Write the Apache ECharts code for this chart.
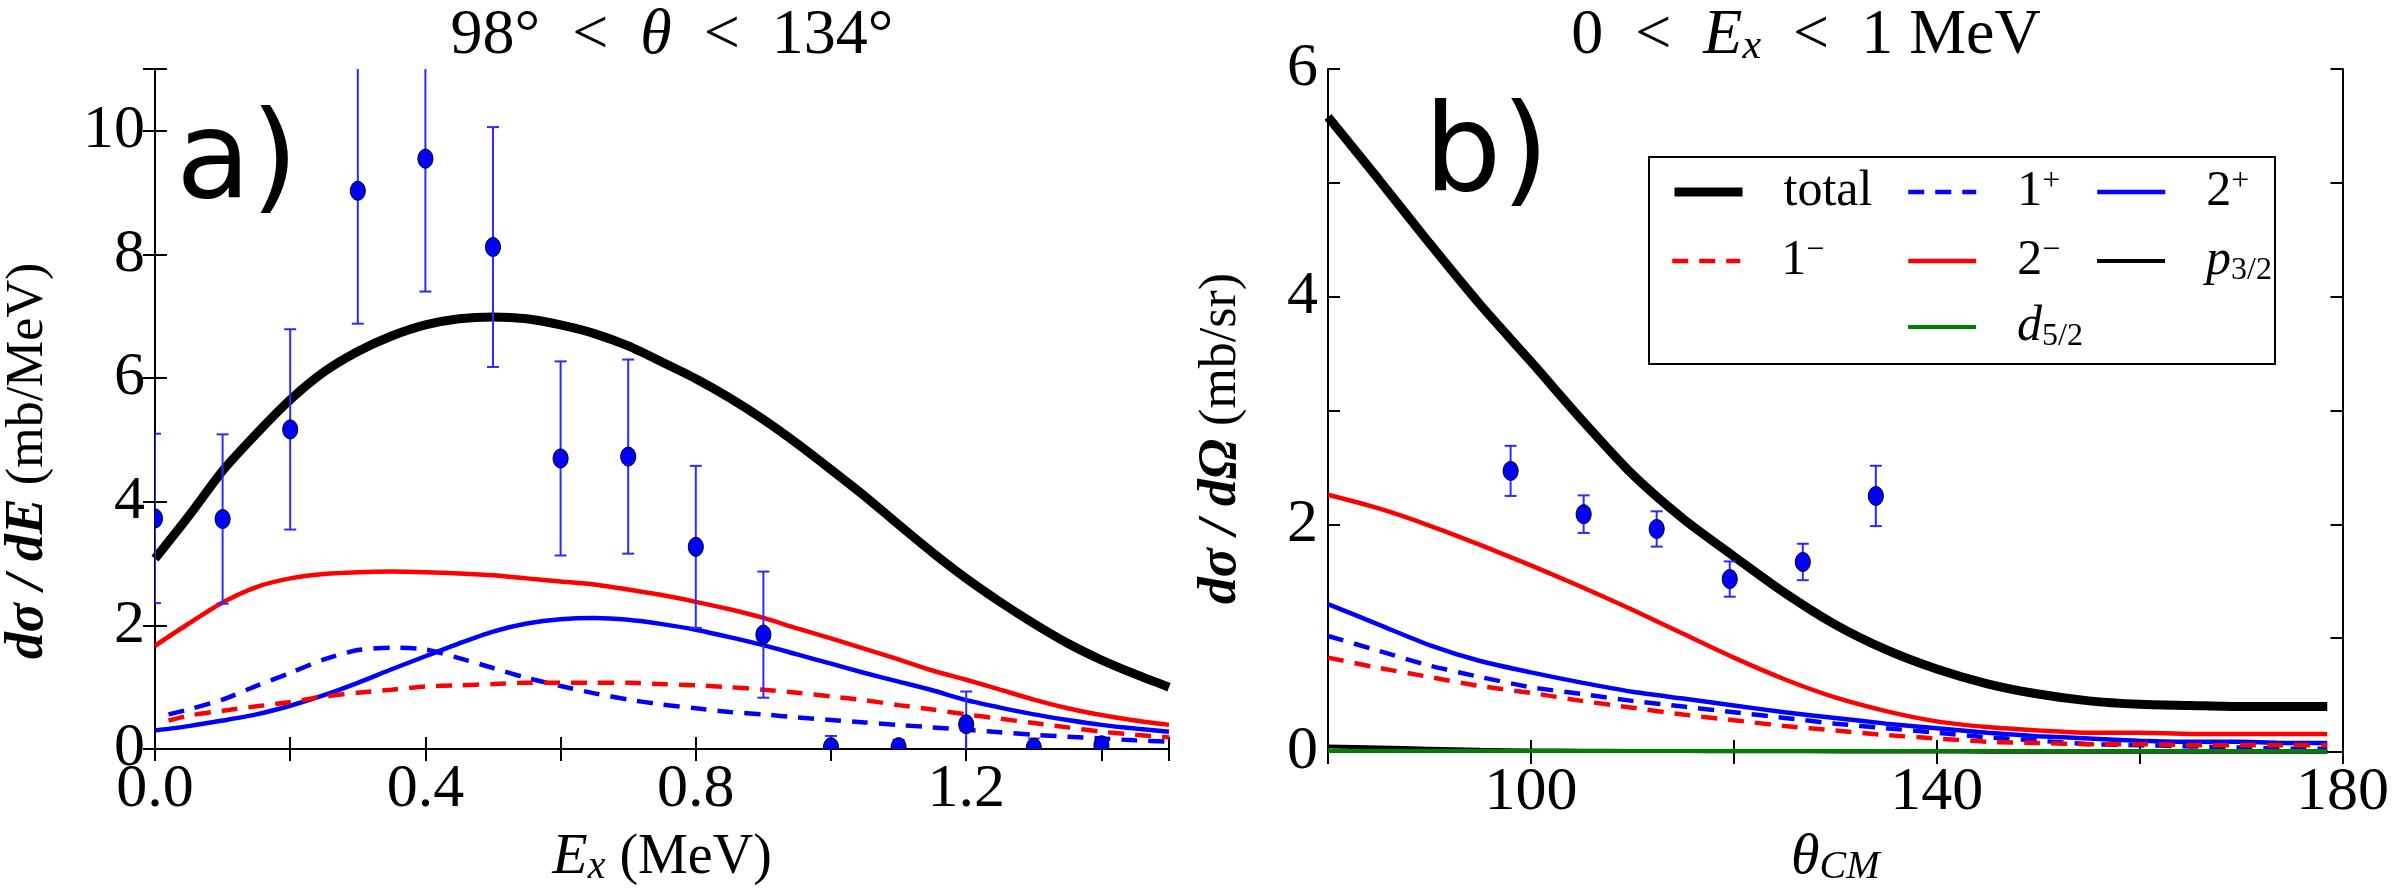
<!DOCTYPE html>
<html>
<head>
<meta charset="utf-8">
<script src="https://cdn.jsdelivr.net/npm/echarts@6/dist/echarts.min.js"></script>
<style>
  html, body { margin: 0; padding: 0; background: #fff; }
  #main { width: 2392px; height: 892px; }
</style>
</head>
<body>
<div id="main"></div>
<script>
// ---- panel a) : 98 < theta < 134, d sigma / dE against Ex ----
const aPointEx = [0.0, 0.1, 0.2, 0.3, 0.4, 0.5, 0.6, 0.7, 0.8, 0.9, 1.0, 1.1, 1.2, 1.3, 1.4]
const aPointY = [3.73, 3.72, 5.17, 9.03, 9.55, 8.12, 4.70, 4.73, 3.27, 1.85, 0.03, 0.03, 0.40, 0.02, 0.06]
const aPointErr = [1.37, 1.37, 1.62, 2.15, 2.15, 1.94, 1.57, 1.57, 1.31, 1.02, 0.18, 0.12, 0.53, 0.15, 0.10]

const aEx = [0, 0.05, 0.1, 0.15, 0.2, 0.25, 0.3, 0.35, 0.4, 0.45, 0.5, 0.55, 0.6, 0.65, 0.7, 0.75,
  0.8, 0.85, 0.9, 0.95, 1.0, 1.05, 1.1, 1.15, 1.2, 1.25, 1.3, 1.35, 1.4, 1.45, 1.5]
const aTotal = [3.08, 3.77, 4.50, 5.10, 5.65, 6.10, 6.43, 6.68, 6.86, 6.96, 6.99, 6.96, 6.86, 6.72, 6.52, 6.26,
  5.99, 5.68, 5.33, 4.94, 4.52, 4.09, 3.63, 3.18, 2.76, 2.38, 2.03, 1.71, 1.44, 1.21, 1.00]
const aTwoMinus = [1.67, 2.03, 2.37, 2.62, 2.76, 2.83, 2.86, 2.87, 2.86, 2.84, 2.81, 2.76, 2.71, 2.66, 2.58, 2.49,
  2.38, 2.26, 2.12, 1.95, 1.79, 1.62, 1.45, 1.27, 1.12, 0.96, 0.80, 0.66, 0.55, 0.46, 0.39]
const aTwoPlus = [0.30, 0.37, 0.46, 0.56, 0.70, 0.87, 1.07, 1.29, 1.50, 1.71, 1.90, 2.03, 2.10, 2.12, 2.09, 2.02,
  1.93, 1.81, 1.68, 1.53, 1.38, 1.23, 1.09, 0.95, 0.79, 0.67, 0.56, 0.47, 0.39, 0.33, 0.28]
// dashed curves start a little right of 0
const aExDash = [0.02, 0.05, 0.1, 0.15, 0.2, 0.25, 0.3, 0.35, 0.4, 0.45, 0.5, 0.55, 0.6, 0.65, 0.7, 0.75,
  0.8, 0.85, 0.9, 0.95, 1.0, 1.05, 1.1, 1.15, 1.2, 1.25, 1.3, 1.35, 1.4, 1.45, 1.5]
const aOnePlus = [0.56, 0.64, 0.80, 1.02, 1.23, 1.45, 1.60, 1.64, 1.61, 1.47, 1.31, 1.15, 1.02, 0.90, 0.80, 0.72,
  0.66, 0.60, 0.56, 0.51, 0.47, 0.43, 0.39, 0.35, 0.31, 0.27, 0.23, 0.20, 0.17, 0.14, 0.12]
const aOneMinus = [0.46, 0.54, 0.62, 0.69, 0.76, 0.85, 0.91, 0.96, 1.01, 1.03, 1.05, 1.07, 1.07, 1.07, 1.07, 1.05,
  1.03, 1.00, 0.96, 0.91, 0.85, 0.79, 0.71, 0.64, 0.56, 0.49, 0.42, 0.35, 0.28, 0.23, 0.19]

// ---- panel b) : 0 < Ex < 1 MeV, d sigma / d Omega against theta_CM ----
const bPointTheta = [98, 105.2, 112.4, 119.6, 126.8, 134]
const bPointY = [2.47, 2.09, 1.96, 1.52, 1.67, 2.25]
const bPointErr = [0.22, 0.165, 0.155, 0.155, 0.16, 0.265]

const bTheta = [80, 85, 90, 95, 100, 105, 110, 115, 120, 125, 130, 135, 140, 145, 150, 155, 160, 165, 170, 175, 178.5]
const bTotal = [5.58, 5.03, 4.47, 3.93, 3.43, 2.92, 2.44, 2.05, 1.72, 1.40, 1.12, 0.90, 0.73, 0.60, 0.51, 0.45, 0.42, 0.41, 0.40, 0.40, 0.40]
const bTwoMinus = [2.26, 2.14, 1.99, 1.82, 1.64, 1.45, 1.25, 1.04, 0.83, 0.64, 0.48, 0.36, 0.27, 0.22, 0.19, 0.17, 0.17, 0.16, 0.16, 0.16, 0.16]
const bTwoPlus = [1.30, 1.12, 0.94, 0.80, 0.70, 0.61, 0.53, 0.47, 0.41, 0.35, 0.30, 0.25, 0.21, 0.17, 0.14, 0.12, 0.10, 0.09, 0.09, 0.08, 0.08]
const bOnePlus = [1.02, 0.89, 0.76, 0.66, 0.57, 0.51, 0.45, 0.40, 0.35, 0.30, 0.25, 0.21, 0.17, 0.13, 0.10, 0.07, 0.06, 0.05, 0.04, 0.03, 0.03]
const bOneMinus = [0.83, 0.74, 0.66, 0.58, 0.52, 0.45, 0.39, 0.33, 0.28, 0.23, 0.19, 0.15, 0.12, 0.09, 0.08, 0.07, 0.07, 0.06, 0.06, 0.06, 0.06]
const bP32 = [0.05, 0.04, 0.03, 0.02, 0.015, 0.012, 0.01, 0.009, 0.008, 0.007, 0.006, 0.005, 0.005, 0.004, 0.004, 0.003, 0.003, 0.003, 0.002, 0.002, 0.002]
const bD52 = [0.01, 0.01, 0.01, 0.01, 0.01, 0.01, 0.01, 0.01, 0.01, 0.01, 0.01, 0.01, 0.01, 0.01, 0.01, 0.01, 0.01, 0.01, 0.01, 0.01, 0.01]

// legend entries: [name, column, row]
const legendCells = [['total', 0, 0], ['1+', 1, 0], ['2+', 2, 0], ['1-', 0, 1], ['2-', 1, 1], ['p3/2', 2, 1], ['d5/2', 1, 2]]
const legendText = {
  'total': 'total',
  '1-': '1{sup|\u2212}',
  '1+': '1{sup|+}',
  '2-': '2{sup|\u2212}',
  '2+': '2{sup|+}',
  'p3/2': '{it|p}{sub|3/2}',
  'd5/2': '{it|d}{sub|5/2}'
}

const SERIF = 'Liberation Serif'
const SANS = 'DejaVu Sans'
const RED = '#ff0000'
const BLUE = '#0000ff'
const ERR = '#2b2bff'
const DASH = [16, 11]

const richMath = {
  i: { fontFamily: SERIF, fontStyle: 'italic', fontSize: 58 },
  b: { fontFamily: SERIF, fontStyle: 'italic', fontWeight: 'bold', fontSize: 54 },
  sub: { fontFamily: SERIF, fontStyle: 'italic', fontSize: 40, verticalAlign: 'bottom', lineHeight: 40 }
}

const main = document.getElementById('main')
let myChart = echarts.init(main)

function pairs(xs, ys) {
    return xs.map((x, i) => [x, ys[i]])
}

function curve(name, xs, ys, color, width, dashed, axis) {
    return {
        name: name,
        type: 'line',
        xAxisIndex: axis,
        yAxisIndex: axis,
        data: pairs(xs, ys),
        symbol: 'none',
        smooth: 0.25,
        lineStyle: { color: color, width: width, type: dashed ? DASH : 'solid' },
        itemStyle: { color: color },
        z: 2
    }
}

// data points with error bars, clipped to the plot frame like the original
function measured(xs, ys, errs, axis) {
    return {
        type: 'custom',
        xAxisIndex: axis,
        yAxisIndex: axis,
        clip: true,
        z: 3,
        data: xs.map((x, i) => [x, ys[i], ys[i] - errs[i], ys[i] + errs[i]]),
        renderItem: (params, api) => {
            const c = api.coord([api.value(0), api.value(1)])
            const lo = api.coord([api.value(0), api.value(2)])
            const hi = api.coord([api.value(0), api.value(3)])
            const w = 6
            const style = { stroke: ERR, lineWidth: 2 }
            return {
                type: 'group',
                children: [
                    { type: 'line', shape: { x1: lo[0], y1: lo[1], x2: hi[0], y2: hi[1] }, style: style },
                    { type: 'line', shape: { x1: lo[0] - w, y1: lo[1], x2: lo[0] + w, y2: lo[1] }, style: style },
                    { type: 'line', shape: { x1: hi[0] - w, y1: hi[1], x2: hi[0] + w, y2: hi[1] }, style: style },
                    { type: 'ellipse', shape: { cx: c[0], cy: c[1], rx: 7.5, ry: 9.5 },
                      style: { fill: BLUE, stroke: '#000', lineWidth: 1 } }
                ]
            }
        }
    }
}

const tickStyle = { show: true, inside: true, length: 12, lineStyle: { color: '#000', width: 2 } }
const lineStyle = { show: true, lineStyle: { color: '#000', width: 2 } }
const labelFont = { fontFamily: SERIF, fontSize: 62, color: '#000' }

function valueAxis(opts) {
    return Object.assign({
        type: 'value',
        axisLine: lineStyle,
        axisTick: tickStyle,
        splitLine: { show: false },
        axisLabel: { show: false }
    }, opts)
}

const xAxes = [
    valueAxis({
        gridIndex: 0, position: 'bottom', min: 0, max: 1.5, interval: 0.2,
        axisLabel: Object.assign({ show: true, margin: 10,
            formatter: v => (Math.round(v * 10) % 4 === 0 && v < 1.45) ? v.toFixed(1) : '' }, labelFont),
        name: '{i|E}{sub|x} (MeV)', nameLocation: 'middle', nameGap: 80,
        nameTextStyle: { fontFamily: SERIF, fontSize: 56, color: '#000', rich: richMath }
    }),
    valueAxis({ gridIndex: 0, position: 'top', min: 0, max: 1.5, interval: 0.2 }),
    valueAxis({
        gridIndex: 1, position: 'bottom', min: 80, max: 180, interval: 20,
        axisLabel: Object.assign({ show: true, margin: 10,
            formatter: v => ((v - 100) % 40 === 0) ? String(v) : '' }, labelFont),
        name: '{i|θ}{sub|CM}', nameLocation: 'middle', nameGap: 72,
        nameTextStyle: { fontFamily: SERIF, fontSize: 56, color: '#000', rich: richMath }
    }),
    valueAxis({ gridIndex: 1, position: 'top', min: 80, max: 180, interval: 20 })
]

const yAxes = [
    valueAxis({
        gridIndex: 0, position: 'left', min: 0, max: 11, interval: 2,
        axisLabel: Object.assign({ show: true, margin: 10,
            formatter: v => (v % 2 === 0) ? String(v) : '' }, labelFont),
        name: '{b|dσ / dE} (mb/MeV)', nameLocation: 'middle', nameGap: 100,
        nameTextStyle: { fontFamily: SERIF, fontSize: 52, color: '#000', rich: richMath, padding: [0, 104, 0, 0] }
    }),
    valueAxis({ gridIndex: 0, position: 'right', min: 0, max: 11, interval: 2 }),
    valueAxis({
        gridIndex: 1, position: 'left', min: 0, max: 6, interval: 1,
        axisLabel: Object.assign({ show: true, margin: 10,
            formatter: v => (v % 2 === 0) ? String(v) : '' }, labelFont),
        name: '{b|dσ / dΩ} (mb/sr)', nameLocation: 'middle', nameGap: 80,
        nameTextStyle: { fontFamily: SERIF, fontSize: 52, color: '#000', rich: richMath, padding: [0, 56, 0, 0] }
    }),
    valueAxis({ gridIndex: 1, position: 'right', min: 0, max: 6, interval: 1 })
]

// series for panel a use axis index 0, panel b uses 2
const series = [
    curve('total', aEx, aTotal, '#000', 9, false, 0),
    curve('2-', aEx, aTwoMinus, RED, 4.5, false, 0),
    curve('2+', aEx, aTwoPlus, BLUE, 4.5, false, 0),
    curve('1+', aExDash, aOnePlus, BLUE, 4.5, true, 0),
    curve('1-', aExDash, aOneMinus, RED, 4.5, true, 0),
    measured(aPointEx, aPointY, aPointErr, 0),

    curve('total', bTheta, bTotal, '#000', 9, false, 2),
    curve('2-', bTheta, bTwoMinus, RED, 4.5, false, 2),
    curve('2+', bTheta, bTwoPlus, BLUE, 4.5, false, 2),
    curve('1+', bTheta, bOnePlus, BLUE, 4.5, true, 2),
    curve('1-', bTheta, bOneMinus, RED, 4.5, true, 2),
    curve('p3/2', bTheta, bP32, '#000', 4, false, 2),
    curve('d5/2', bTheta, bD52, '#008000', 4, false, 2),
    measured(bPointTheta, bPointY, bPointErr, 2)
]

const legendLeft = [1665, 1901, 2090]
const legendRowTop = [161, 230, 296]
const legends = legendCells.map(([name, col, row]) => ({
    orient: 'vertical',
    left: legendLeft[col],
    top: legendRowTop[row],
    data: [name],
    selectedMode: false,
    itemWidth: 68,
    itemHeight: 14,
    itemStyle: { opacity: 0 },
    lineStyle: { width: 'inherit' },
    formatter: n => legendText[n],
    textStyle: {
        fontFamily: SERIF, fontSize: 50, color: '#000', lineHeight: 52,
        padding: [0, 0, 0, 36],
        rich: {
            sup: { fontFamily: SERIF, fontSize: 32, lineHeight: 30, verticalAlign: 'top' },
            sub: { fontFamily: SERIF, fontSize: 32, lineHeight: 30, verticalAlign: 'bottom' },
            it: { fontFamily: SERIF, fontSize: 50, fontStyle: 'italic', lineHeight: 52 }
        }
    }
}))

myChart.setOption({
    backgroundColor: '#fff',
    animation: false,
    grid: [
        { left: 142, top: 69, width: 1027, height: 683 },
        { left: 1328, top: 69, width: 1026, height: 699 }
    ],
    xAxis: xAxes,
    yAxis: yAxes,
    legend: legends,
    series: series,
    graphic: [
        { type: 'rect', shape: { x: 1649, y: 157, width: 626, height: 207 },
          style: { fill: '#fff', stroke: '#000', lineWidth: 2 }, z: 1 },
        { type: 'text', x: 672, y: 36, z: 10,
          style: { text: '98°\u2002<\u2002{i|θ}\u2002<\u2002134°', fontFamily: SERIF, fontSize: 64,
                   fill: '#000', align: 'center', verticalAlign: 'middle', rich: {
                       i: { fontFamily: SERIF, fontStyle: 'italic', fontSize: 64 } } } },
        { type: 'text', x: 1806, y: 36, z: 10,
          style: { text: '0\u2002<\u2002{i|E}{sub|x}\u2002<\u20021 MeV', fontFamily: SERIF, fontSize: 64,
                   fill: '#000', align: 'center', verticalAlign: 'middle', rich: {
                       i: { fontFamily: SERIF, fontStyle: 'italic', fontSize: 64 },
                       sub: { fontFamily: SERIF, fontStyle: 'italic', fontSize: 42, verticalAlign: 'bottom', lineHeight: 42 } } } },
        { type: 'text', x: 176, y: 165, z: 10,
          style: { text: 'a)', fontFamily: SANS, fontSize: 122, fill: '#000', align: 'left', verticalAlign: 'middle' } },
        { type: 'text', x: 1424, y: 158, z: 10,
          style: { text: 'b)', fontFamily: SANS, fontSize: 122, fill: '#000', align: 'left', verticalAlign: 'middle' } }
    ]
})
</script>
</body>
</html>
